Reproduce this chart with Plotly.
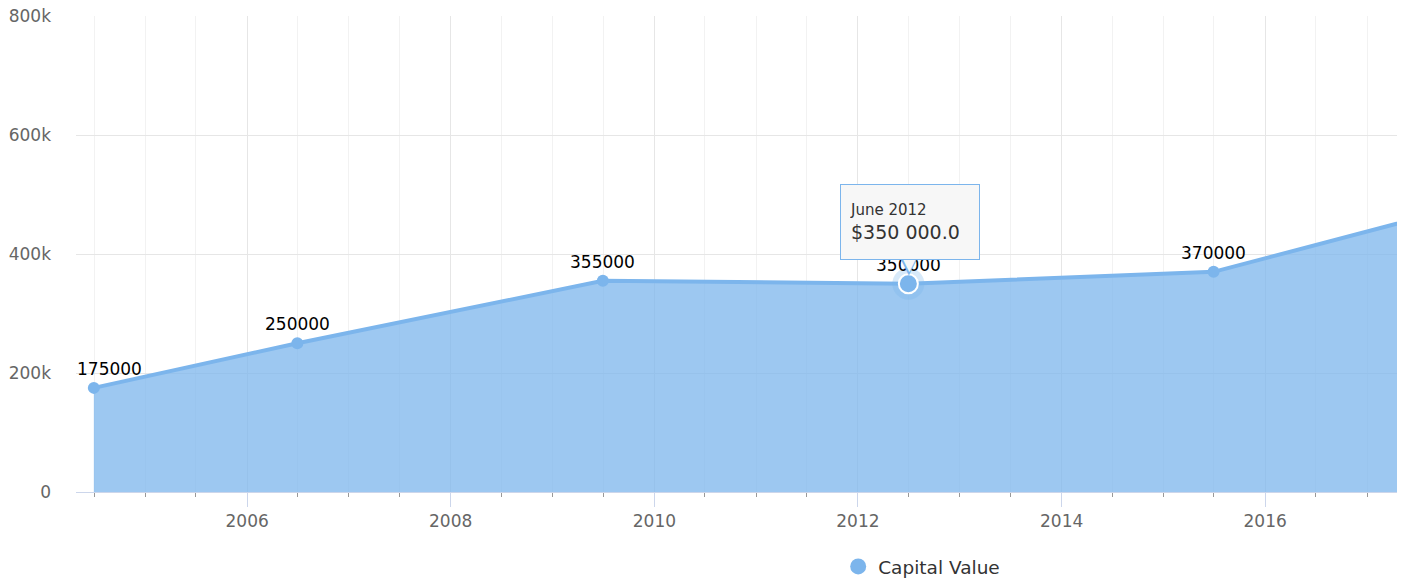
import plotly.graph_objects as go

# ---- data ----
dates = ["2004-06-30", "2006-06-30", "2009-06-30", "2012-06-30", "2015-06-30", "2017-06-30"]
values = [175000, 250000, 355000, 350000, 370000, 460000]
# data labels for the points inside the visible range
label_dates = ["2004-06-30", "2006-06-30", "2009-06-30", "2012-06-30", "2015-06-30"]
label_values = [175000, 250000, 355000, 350000, 370000]
labels = ["175000", "250000", "355000", "350000", "370000"]
series_name = "Capital Value"
hover_date = "2012-06-30"
hover_value = 350000
tooltip_header = "June 2012"
tooltip_value = "$350 000.0"
y_ticks = [0, 200000, 400000, 600000, 800000]

FONT = "DejaVu Sans"
BLUE = "#7cb5ec"

fig = go.Figure()

fig.add_trace(go.Scatter(
    x=dates, y=values, mode="lines+markers",
    line=dict(color=BLUE, width=4),
    marker=dict(color=BLUE, size=12),
    fill="tozeroy", fillcolor="rgba(124,181,236,0.75)",
    showlegend=False, cliponaxis=True, hoverinfo="skip",
))

# hovered point halo + marker
fig.add_trace(go.Scatter(
    x=[hover_date], y=[hover_value], mode="markers",
    marker=dict(color="rgba(124,181,236,0.3)", size=32),
    showlegend=False, hoverinfo="skip",
))
fig.add_trace(go.Scatter(
    x=[hover_date], y=[hover_value], mode="markers",
    marker=dict(color=BLUE, size=19, line=dict(color="white", width=2)),
    showlegend=False, hoverinfo="skip",
))

# legend entry
fig.add_trace(go.Scatter(
    x=[None], y=[None], mode="markers", name=series_name,
    marker=dict(color=BLUE, size=16),
))

# data labels (first one justified inside the plot area, as Highcharts does)
for i, (d, v, t) in enumerate(zip(label_dates, label_values, labels)):
    fig.add_annotation(
        x=d, y=v, xref="x", yref="y", text=t, showarrow=False,
        yanchor="middle", yshift=19, xshift=16 if i == 0 else 0,
        font=dict(family=FONT, size=17, color="#000000"),
    )

# tooltip pointer (outlined triangle drawn with two glyphs, above the labels)
fig.add_annotation(
    x=hover_date, y=hover_value, xref="x", yref="y", text="▼", showarrow=False,
    yanchor="middle", yshift=21, xshift=1,
    font=dict(family=FONT, size=28, color=BLUE),
)
fig.add_annotation(
    x=hover_date, y=hover_value, xref="x", yref="y", text="▼", showarrow=False,
    yanchor="middle", yshift=22.5, xshift=1,
    font=dict(family=FONT, size=24, color="#f7f7f7"),
)

# tooltip box
fig.add_annotation(
    x=hover_date, y=hover_value, xref="x", yref="y",
    text=(f"<span style='font-size:15px'>{tooltip_header}</span><br>"
          f"{tooltip_value}"),
    showarrow=False, xanchor="center", yanchor="bottom", yshift=24, xshift=2,
    align="left", width=120, height=56,
    bgcolor="#f7f7f7", bordercolor=BLUE, borderwidth=1, borderpad=9,
    font=dict(family=FONT, size=19, color="#333333"),
)

fig.update_layout(
    width=1404, height=582,
    margin=dict(l=76, r=7, t=16, b=90),
    plot_bgcolor="white", paper_bgcolor="white",
    font=dict(family=FONT, color="#666666"),
    legend=dict(orientation="h", xref="container", yref="container",
                x=0.597, xanchor="left", y=0.026, yanchor="middle",
                font=dict(family=FONT, size=18.5, color="#333333"),
                bgcolor="rgba(0,0,0,0)"),
    hovermode=False,
)

fig.update_xaxes(
    type="date", range=["2004-04-27", "2017-04-18"], automargin=False,
    tick0="2006-01-01", dtick="M24", tickformat="%Y",
    showgrid=True, gridcolor="#e6e6e6", gridwidth=1,
    showline=True, linecolor="#ccd6eb", linewidth=1,
    ticks="outside", ticklen=14, tickcolor="#ccd6eb",
    tickfont=dict(family=FONT, size=17, color="#666666"),
    minor=dict(dtick="M6", tick0="2006-01-01", showgrid=True, gridcolor="#f2f2f2",
               ticks="outside", ticklen=4, tickcolor="#999999"),
    zeroline=False,
)

fig.update_yaxes(
    range=[0, 800000], tickvals=y_ticks, tickformat="~s", automargin=False,
    showgrid=True, gridcolor="#e6e6e6", gridwidth=1,
    zeroline=False, showline=False, ticks="",
    ticklabelstandoff=24,
    tickfont=dict(family=FONT, size=17, color="#666666"),
)

fig.write_html(
    "out.html",
    config={"displayModeBar": False},
    post_script="document.body.style.margin='0';document.body.style.padding='0';",
)
